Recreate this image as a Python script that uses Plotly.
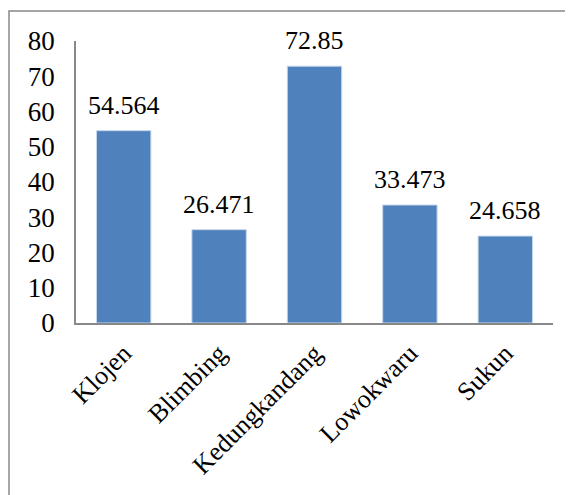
import plotly.graph_objects as go

categories = ["Klojen", "Blimbing", "Kedungkandang", "Lowokwaru", "Sukun"]
values = [54.564, 26.471, 72.85, 33.473, 24.658]
value_labels = ["54.564", "26.471", "72.85", "33.473", "24.658"]
y_ticks = [0, 10, 20, 30, 40, 50, 60, 70, 80]

FONT = "Times New Roman, Liberation Serif, serif"
BAR = "#4F81BD"
AXIS = "#888888"

# page body has an 8px margin; layout margins compensate for it
L, T, R, B = 68, 33, 28, 180
PW = 573 - L - R
PH = 495 - T - B

fig = go.Figure()
fig.add_trace(go.Bar(
    x=categories, y=values,
    marker=dict(color=BAR, line=dict(color="#C5D6EC", width=1)),
    hoverinfo="skip",
))

for c, v, t in zip(categories, values, value_labels):
    fig.add_annotation(x=c, y=v, text=t, showarrow=False, yanchor="bottom",
                       yshift=9, font=dict(family=FONT, size=26, color="#000"))

# outer frame
fig.add_shape(type="rect", xref="paper", yref="paper",
              x0=(1 - L) / PW, x1=1.3, y0=-0.8, y1=(495 - B - 3) / PH,
              line=dict(color=AXIS, width=1.5), fillcolor="rgba(0,0,0,0)")

fig.update_layout(
    template="none",
    width=573, height=495,
    margin=dict(l=L, r=R, t=T, b=B, autoexpand=False),
    paper_bgcolor="white", plot_bgcolor="white",
    showlegend=False,
    font=dict(family=FONT, size=26, color="#000"),
    bargap=0.43,
)
fig.update_yaxes(range=[0, 80], tickvals=y_ticks, showgrid=False,
                 showline=True, linecolor=AXIS, linewidth=1.5,
                 ticks="", ticklabelstandoff=14, zeroline=False, automargin=False,
                 tickfont=dict(family=FONT, size=27, color="#000"))
fig.update_xaxes(showline=True, linecolor=AXIS, linewidth=1.5, ticks="",
                 tickangle=-45, ticklabelstandoff=3, automargin=False, showgrid=False,
                 tickfont=dict(family=FONT, size=26, color="#000"))

fig.write_html("out.html")
